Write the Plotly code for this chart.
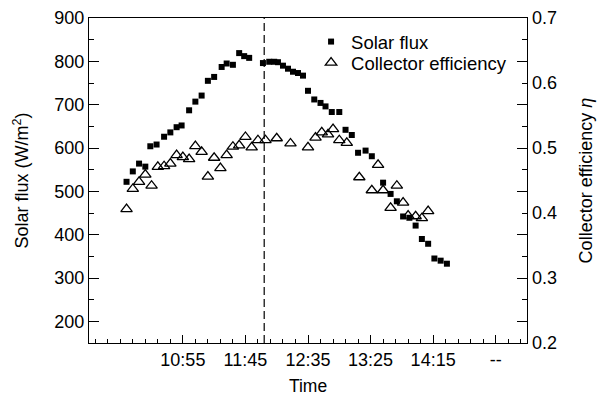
import plotly.graph_objects as go

# ---- data ----
flux_time = ["10:10","10:15","10:20","10:25","10:29","10:34","10:40","10:45","10:50","10:54",
             "11:00","11:05","11:10","11:15","11:20","11:26","11:30","11:35","11:40","11:44",
             "11:48","11:59","12:04","12:08","12:11","12:15","12:19","12:23","12:27","12:31",
             "12:35","12:40","12:45","12:49","12:54","13:00","13:05","13:10","13:15","13:21",
             "13:26","13:35","13:41","13:46","13:51","13:56","14:01","14:06","14:11","14:16",
             "14:21","14:26"]
solar_flux = [522, 546, 564, 557, 604, 608, 626, 636, 648, 652,
              687, 707, 721, 755, 764, 787, 795, 792, 819, 812,
              808, 796, 799, 799, 798, 790, 783, 776, 773, 767,
              732, 712, 704, 696, 683, 683, 642, 630, 589, 594,
              581, 520, 494, 477, 442, 439, 421, 390, 379, 345,
              340, 333]

eff_time = ["10:10","10:15","10:20","10:25","10:30","10:35","10:40","10:45","10:50","10:55",
            "11:00","11:05","11:10","11:15","11:20","11:25","11:30","11:35","11:40","11:45",
            "11:50","11:55","12:01","12:10","12:21","12:35","12:41","12:46","12:51","12:55",
            "13:00","13:06","13:16","13:26","13:31","13:35","13:41","13:46","13:51","13:55",
            "14:01","14:06","14:11"]
efficiency = [0.406, 0.437, 0.448, 0.459, 0.442, 0.471, 0.472, 0.476, 0.489, 0.486,
              0.483, 0.503, 0.494, 0.456, 0.485, 0.469, 0.489, 0.502, 0.504, 0.517,
              0.501, 0.512, 0.512, 0.515, 0.507, 0.501, 0.516, 0.524, 0.521, 0.529,
              0.512, 0.508, 0.455, 0.435, 0.474, 0.435, 0.408, 0.442, 0.416, 0.396,
              0.395, 0.392, 0.403]

x_tick_times = ["10:55", "11:45", "12:35", "13:25", "14:15", "15:05"]
x_tick_text = ["10:55", "11:45", "12:35", "13:25", "14:15", "--"]
x_range_times = ["9:40", "15:30"]
noon_time = "12:00"


def to_min(s):
    h, m = s.split(":")
    return int(h) * 60 + int(m)


fx = [to_min(t) for t in flux_time]
ex = [to_min(t) for t in eff_time]
xr = [to_min(t) for t in x_range_times]
tickvals = [to_min(t) for t in x_tick_times]
minor_vals = list(range(xr[0] + 5, xr[1], 10))

FONT = "Arial, Liberation Sans, sans-serif"

fig = go.Figure()
fig.add_trace(go.Scatter(
    x=fx, y=solar_flux, mode="markers", name="Solar flux", legend="legend",
    marker=dict(symbol="square", size=6, color="black", line=dict(width=0)),
))
fig.add_trace(go.Scatter(
    x=ex, y=efficiency, mode="markers", name="Collector efficiency", yaxis="y2",
    legend="legend2",
    marker=dict(symbol="triangle-up-open", size=10, color="black",
                line=dict(width=1.3, color="black")),
))

fig.add_shape(type="line", xref="x", yref="paper", x0=to_min(noon_time), x1=to_min(noon_time),
              y0=0, y1=1, line=dict(color="black", width=1.2, dash="8px,4px"))

leg_common = dict(xanchor="left", yanchor="middle", bgcolor="rgba(0,0,0,0)",
                  font=dict(size=18.5), itemwidth=30)

fig.update_layout(
    width=601, height=396,
    margin=dict(l=89, r=74, t=18, b=53, autoexpand=False),
    paper_bgcolor="white", plot_bgcolor="white",
    font=dict(family=FONT, size=18, color="black"),
    showlegend=True,
    legend=dict(x=0.507, y=0.926, **leg_common),
    legend2=dict(x=0.507, y=0.8615, **leg_common),
    xaxis=dict(
        range=xr, tickmode="array", tickvals=tickvals, ticktext=x_tick_text,
        ticks="inside", ticklen=8, tickwidth=1, tickcolor="black",
        minor=dict(tickmode="array", tickvals=minor_vals, ticks="inside", ticklen=4,
                   tickwidth=1, tickcolor="black"),
        showline=True, linecolor="black", linewidth=1.3, mirror=True,
        showgrid=False, zeroline=False, automargin=False,
        title=dict(text="Time", standoff=14, font=dict(size=17.5)),
    ),
    yaxis=dict(
        range=[150, 900], tick0=0, dtick=100,
        ticks="inside", ticklen=10, tickwidth=1, tickcolor="black",
        minor=dict(dtick=50, tick0=0, ticks="inside", ticklen=5, tickwidth=1, tickcolor="black"),
        showline=True, linecolor="black", linewidth=1.3, mirror="ticks",
        showgrid=False, zeroline=False, automargin=False,
        title=dict(text="Solar flux (W/m<sup>2</sup>)", standoff=20, font=dict(size=18)),
    ),
    yaxis2=dict(
        range=[0.2, 0.7], dtick=0.1, tick0=0, tickformat=".1f",
        overlaying="y", side="right", ticks="", showline=False,
        showgrid=False, zeroline=False, automargin=False, ticklabelstandoff=4,
        title=dict(text="Collector efficiency <i>η</i>", standoff=23, font=dict(size=18)),
    ),
)

fig.write_html("out.html", config={"displayModeBar": False},
               post_script="document.body.style.margin='0px';")
